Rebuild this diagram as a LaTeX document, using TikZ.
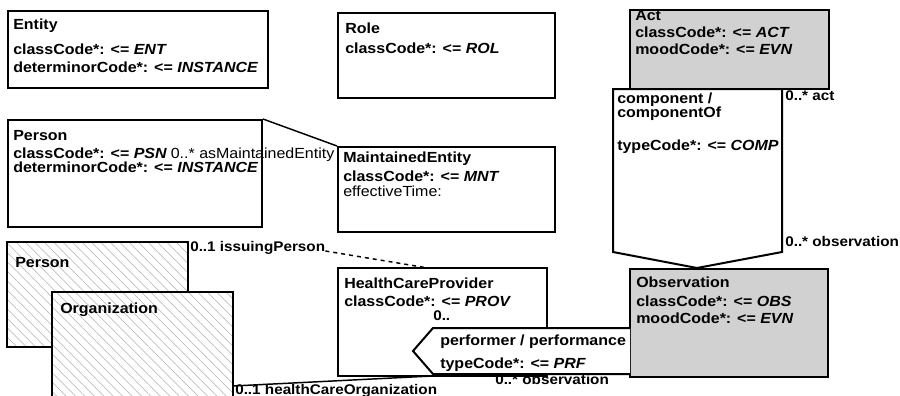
\documentclass[tikz,border=0pt]{standalone}
\usepackage{fontspec}
\setmainfont{Liberation Sans}[FakeStretch=1.09]
\usetikzlibrary{patterns.meta,fit}
\begin{document}
\begin{tikzpicture}[x=0.75pt,y=-0.75pt,
  box/.style={draw=black,line width=1.5pt,inner sep=0pt},
  actbox/.style={box,fill=black!18},
  hatch/.style={box,preaction={fill=white},pattern={Lines[angle=-45,distance=5pt,line width=0.4pt]},pattern color=black!30},
  conn/.style={draw=black,line width=1.1pt},
  hd/.style={inner sep=0pt,anchor=base west,font=\fontsize{11}{13}\selectfont\bfseries},
  lb/.style={inner sep=0pt,anchor=base west,font=\fontsize{10.5}{13}\selectfont\bfseries},
  rg/.style={inner sep=0pt,anchor=base west,font=\fontsize{11}{13}\selectfont}]
\useasboundingbox (0,0) rectangle (900,396);
\clip (0,0) rectangle (900,396);
% Entity
\node[box,fit={(8,11)(268,88)}] (entity) {};
\node[hd] (ent0) at (13,29) {Entity};
\node[hd] (ent1) at (13,55) {classCode*: <= \textit{ENT}};
\node[hd] (ent2) at (13,72) {determinorCode*: <= \textit{INSTANCE}};
% Role
\node[box,fit={(338,13)(555,98)}] (role) {};
\node[hd] (rol0) at (345,33) {Role};
\node[hd] (rol1) at (345,53) {classCode*: <= \textit{ROL}};
% Act
\node[actbox,fit={(630,10)(829,89)}] (act) {};
\node[hd] (act0) at (635,21) {Act};
\node[hd] (act1) at (635,37) {classCode*: <= \textit{ACT}};
\node[hd] (act2) at (635,54) {moodCode*: <= \textit{EVN}};
% component choice
\draw[box,fill=white] (613,89) -- (782,89) -- (782,252) -- (697,268) -- (613,252) -- cycle;
\node[hd] (cmp0) at (617,103) {component /};
\node[hd] (cmp1) at (617,117) {componentOf};
\node[hd] (cmp2) at (617,150) {typeCode*: <= \textit{COMP}};
\node[lb] (lact) at (785,100) {0..* act};
\node[lb] (lobs1) at (785,246) {0..* observation};
% Observation
\node[actbox,fit={(630,269)(828,377)}] (obs) {};
\node[hd] (obs0) at (636,287) {Observation};
\node[hd] (obs1) at (636,306) {classCode*: <= \textit{OBS}};
\node[hd] (obs2) at (636,323) {moodCode*: <= \textit{EVN}};
% Person (top)
\node[box,fit={(8,120)(262,227)}] (personA) {};
\node[hd] (per0) at (13,140) {Person};
\node[hd] (per1) at (13,158) {classCode*: <= \textit{PSN}};
\node[rg,anchor=base west] (asme) at ([xshift=2.5pt]per1.base east) {0..* asMaintainedEntity};
\node[hd] (per2) at (13,172) {determinorCode*: <= \textit{INSTANCE}};
% MaintainedEntity
\node[box,fit={(338,147)(555,232)}] (me) {};
\node[hd] (me0) at (343,162) {MaintainedEntity};
\node[hd] (me1) at (343,181) {classCode*: <= \textit{MNT}};
\node[rg] (me2) at (343,196) {effectiveTime:};
\draw[conn] (personA.north east) -- (me.north west);
% Person (lower) and Organization
\node[hatch,fit={(7,242)(188,347)}] (personB) {};
\node[hd] (pb0) at (15,267) {Person};
\node[hatch,fit={(52,292)(233,402)}] (org) {};
\node[hd] (org0) at (60,313) {Organization};
% HealthCareProvider
\node[box,fit={(338,268)(547,376)}] (hcp) {};
\node[hd] (hcp0) at (344,288) {HealthCareProvider};
\node[hd] (hcp1) at (344,306) {classCode*: <= \textit{PROV}};
% performer choice
\draw[box,fill=white] (630,328) -- (433,328) -- (413,351) -- (433,374) -- (630,374);
\node[hd] (prf0) at (440,345) {performer / performance};
\node[hd] (prf1) at (440,368) {typeCode*: <= \textit{PRF}};
\node[lb] (lprov) at (433,320) {0..};
\node[lb] (lobs2) at (495,384) {0..* observation};
% issuingPerson
\node[lb] (ip) at (190,251) {0..1 issuingPerson};
\coordinate (hcpIn) at (428,268);
\draw[conn,dashed] (ip.base east) -- (hcpIn);
% healthCareOrganization
\coordinate (orgOut) at (233,386);
\coordinate (hcpOut) at (432,376);
\draw[conn] (orgOut) -- (hcpOut);
\node[lb] (hco) at (235,394) {0..1 healthCareOrganization};
\end{tikzpicture}
\end{document}
